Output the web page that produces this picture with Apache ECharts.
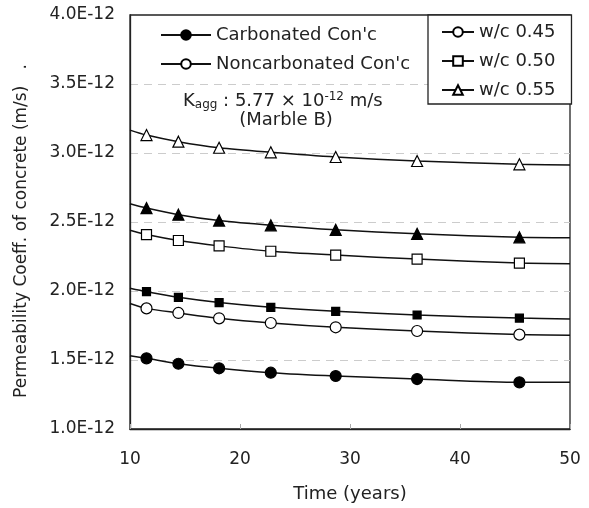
<!DOCTYPE html>
<html>
  <head>
    <meta charset='UTF-8'>
    <title>Permeability Coeff.</title>
    <script src="https://cdn.jsdelivr.net/npm/echarts@6/dist/echarts.min.js"></script>
    <style>
      body { margin: 0; background: #fff; }
    </style>
  </head>
  <body>
    <div id="main" style="width: 589px;height:508px;"></div>
    <script type="text/javascript">
      // time (years) of the marked points
      var years = [11.5, 14.4, 18.1, 22.8, 28.7, 36.1, 45.4];
      // curve ends
      var endYears = [10, 50];

      // permeability coeff (x 1E-12 m/s)
      var carb045 = [1.512, 1.473, 1.440, 1.408, 1.384, 1.362, 1.338];
      var nonc045 = [1.874, 1.841, 1.802, 1.768, 1.737, 1.710, 1.684];
      var carb050 = [1.995, 1.954, 1.916, 1.882, 1.853, 1.826, 1.804];
      var nonc050 = [2.409, 2.366, 2.327, 2.288, 2.260, 2.231, 2.202];
      var carb055 = [2.601, 2.553, 2.510, 2.476, 2.443, 2.414, 2.389];
      var nonc055 = [3.130, 3.082, 3.038, 3.005, 2.971, 2.942, 2.918];

      // value of each curve at 10 and 50 years
      var carb045Ends = [1.531, 1.338];
      var nonc045Ends = [1.91, 1.68];
      var carb050Ends = [2.02, 1.797];
      var nonc050Ends = [2.44, 2.198];
      var carb055Ends = [2.632, 2.386];
      var nonc055Ends = [3.166, 2.913];

      var yTicks = [1.0, 1.5, 2.0, 2.5, 3.0, 3.5, 4.0];
      var xTicks = [10, 20, 30, 40, 50];

      var FONT = 'DejaVu Sans';

      function pts(vals) {
        return years.map(function (t, i) { return [t, vals[i]]; });
      }
      function curve(vals, ends) {
        return [[endYears[0], ends[0]]].concat(pts(vals), [[endYears[1], ends[1]]]);
      }
      function curveSeries(vals, ends) {
        return {
          type: 'line', data: curve(vals, ends), smooth: 0.3,
          showSymbol: false, symbol: 'none', silent: true, z: 2,
          lineStyle: { color: '#111', width: 1.5 }
        };
      }
      function markSeries(vals, shape, filled, size) {
        return {
          type: 'scatter', data: pts(vals), symbol: shape, symbolSize: size, z: 3,
          itemStyle: { color: filled ? '#000' : '#fff', borderColor: '#000', borderWidth: 1.2, opacity: 1 }
        };
      }
      function legendSeries(name, shape, filled) {
        return {
          name: name, type: 'line', data: [], symbol: shape,
          lineStyle: { color: '#111', width: 1.3 },
          itemStyle: { color: filled ? '#000' : '#fff', borderColor: '#000', borderWidth: 1.2 }
        };
      }

      var myChart = echarts.init(document.getElementById('main'));
      var option = {
        animation: false,
        backgroundColor: '#fff',
        grid: {
          left: 130, right: 19, top: 15, bottom: 78,
          show: true, borderColor: '#222', borderWidth: 1.3
        },
        xAxis: {
          type: 'value', min: xTicks[0], max: xTicks[xTicks.length - 1], interval: 10,
          name: 'Time (years)', nameLocation: 'middle', nameGap: 56,
          nameTextStyle: { fontFamily: FONT, fontSize: 18, color: '#222' },
          axisLine: { show: true, lineStyle: { color: '#222', width: 1.3 } },
          axisTick: { show: true, inside: true, length: 5, lineStyle: { color: '#aaa' } },
          axisLabel: { fontFamily: FONT, fontSize: 17, color: '#222', margin: 22 },
          splitLine: { show: false }
        },
        yAxis: {
          type: 'value', min: yTicks[0], max: yTicks[yTicks.length - 1], interval: 0.5,
          name: 'Permeability Coeff. of concrete (m/s)   .', nameLocation: 'middle', nameGap: 100,
          nameTextStyle: { fontFamily: FONT, fontSize: 17, color: '#222', padding: [0, 18, 0, 0] },
          axisLine: { show: true, lineStyle: { color: '#222', width: 1.3 } },
          axisTick: { show: false },
          axisLabel: {
            fontFamily: FONT, fontSize: 17, color: '#222', margin: 15,
            formatter: function (v) { return v.toFixed(1) + 'E-12'; }
          },
          splitLine: {
            show: true, showMinLine: false, showMaxLine: false,
            lineStyle: { color: '#ccc', type: [8, 6], width: 1 }
          }
        },
        legend: [
          {
            data: ["Carbonated Con'c", "Noncarbonated Con'c"],
            orient: 'vertical', left: 160, top: 26, padding: 0,
            itemWidth: 50, itemHeight: 12, itemGap: 11,
            textStyle: { fontFamily: FONT, fontSize: 18, color: '#222' },
            selectedMode: false
          },
          {
            data: ['w/c 0.45', 'w/c 0.50', 'w/c 0.55'],
            orient: 'vertical', left: 428, top: 15,
            padding: [8, 16, 5, 13],
            borderColor: '#222', borderWidth: 1.3, backgroundColor: '#fff',
            itemWidth: 32, itemHeight: 12, itemGap: 11,
            textStyle: { fontFamily: FONT, fontSize: 18, color: '#222' },
            selectedMode: false
          }
        ],
        graphic: [
          {
            type: 'text', left: 183, top: 91, z: 10,
            style: {
              text: 'K{sub|agg} : 5.77 × 10{sup|-12} m/s',
              font: '18px "DejaVu Sans"', fill: '#222',
              rich: {
                sub: { fontSize: 12, fontFamily: FONT, fill: '#222', verticalAlign: 'bottom', padding: [8, 0, 0, 0] },
                sup: { fontSize: 12, fontFamily: FONT, fill: '#222', verticalAlign: 'top', padding: [0, 0, 8, 0] }
              }
            }
          },
          {
            type: 'text', x: 286, y: 120, z: 10,
            style: {
              text: '(Marble B)', font: '18px "DejaVu Sans"', fill: '#222',
              align: 'center', verticalAlign: 'middle'
            }
          }
        ],
        series: [
          curveSeries(carb045, carb045Ends),
          curveSeries(nonc045, nonc045Ends),
          curveSeries(carb050, carb050Ends),
          curveSeries(nonc050, nonc050Ends),
          curveSeries(carb055, carb055Ends),
          curveSeries(nonc055, nonc055Ends),
          markSeries(carb045, 'circle', true, 11),
          markSeries(nonc045, 'circle', false, 11),
          markSeries(carb050, 'rect', true, 8),
          markSeries(nonc050, 'rect', false, 10),
          markSeries(carb055, 'triangle', true, 11),
          markSeries(nonc055, 'triangle', false, 11),
          legendSeries("Carbonated Con'c", 'circle', true),
          legendSeries("Noncarbonated Con'c", 'circle', false),
          legendSeries('w/c 0.45', 'circle', false),
          legendSeries('w/c 0.50', 'rect', false),
          legendSeries('w/c 0.55', 'triangle', false)
        ]
      };
      myChart.setOption(option);
    </script>
  </body>
</html>
